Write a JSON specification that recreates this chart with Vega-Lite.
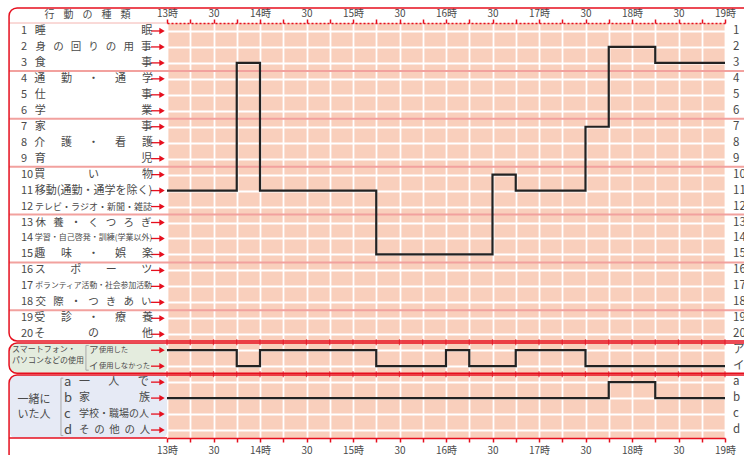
{
  "$schema": "https://vega.github.io/schema/vega-lite/v6.json",
  "width": 558,
  "height": 415,
  "autosize": {"type": "none"},
  "padding": {"left": 167, "top": 23, "right": 19, "bottom": 17},
  "background": "white",
  "config": {
    "view": {"fill": "#f9cfbc", "stroke": null},
    "font": "Noto Sans CJK JP",
    "text": {"font": "Noto Sans CJK JP"},
    "axis": {"labelFont": "Noto Sans CJK JP"}
  },
  "resolve": {"axis": {"x": "independent", "y": "independent"}},
  "datasets": {
    "rows": [
      {"row": 1, "num": "1", "label": "睡\u3000\u3000\u3000\u3000\u3000\u3000\u3000\u3000\u00a0\u00a0\u00a0眠", "rlab": "1"},
      {"row": 2, "num": "2", "label": "身\u00a0\u00a0\u00a0の\u00a0\u00a0\u00a0回\u00a0\u00a0\u00a0り\u00a0\u00a0\u00a0の\u00a0\u00a0\u00a0用\u00a0\u00a0\u00a0事", "rlab": "2"},
      {"row": 3, "num": "3", "label": "食\u3000\u3000\u3000\u3000\u3000\u3000\u3000\u3000\u00a0\u00a0\u00a0事", "rlab": "3"},
      {"row": 4, "num": "4", "label": "通\u3000\u00a0\u00a0勤\u3000\u00a0\u00a0・\u3000\u00a0\u00a0通\u3000\u00a0\u00a0学", "rlab": "4"},
      {"row": 5, "num": "5", "label": "仕\u3000\u3000\u3000\u3000\u3000\u3000\u3000\u3000\u00a0\u00a0\u00a0事", "rlab": "5"},
      {"row": 6, "num": "6", "label": "学\u3000\u3000\u3000\u3000\u3000\u3000\u3000\u3000\u00a0\u00a0\u00a0業", "rlab": "6"},
      {"row": 7, "num": "7", "label": "家\u3000\u3000\u3000\u3000\u3000\u3000\u3000\u3000\u00a0\u00a0\u00a0事", "rlab": "7"},
      {"row": 8, "num": "8", "label": "介\u3000\u00a0\u00a0護\u3000\u00a0\u00a0・\u3000\u00a0\u00a0看\u3000\u00a0\u00a0護", "rlab": "8"},
      {"row": 9, "num": "9", "label": "育\u3000\u3000\u3000\u3000\u3000\u3000\u3000\u3000\u00a0\u00a0\u00a0児", "rlab": "9"},
      {"row": 10, "num": "10", "label": "買\u3000\u3000\u3000\u00a0\u00a0\u00a0\u00a0い\u3000\u3000\u3000\u00a0\u00a0\u00a0\u00a0物", "rlab": "10"},
      {"row": 11, "num": "11", "label": "移動(通勤・通学を除く)", "rlab": "11"},
      {"row": 12, "num": "12", "label": "テレビ・ラジオ・新聞・雑誌", "rlab": "12"},
      {"row": 13, "num": "13", "label": "休\u00a0\u00a0\u00a0養\u00a0\u00a0\u00a0・\u00a0\u00a0\u00a0く\u00a0\u00a0\u00a0つ\u00a0\u00a0\u00a0ろ\u00a0\u00a0\u00a0ぎ", "rlab": "13"},
      {"row": 14, "num": "14", "label": "学習・自己啓発・訓練(学業以外)", "rlab": "14"},
      {"row": 15, "num": "15", "label": "趣\u3000\u00a0\u00a0味\u3000\u00a0\u00a0・\u3000\u00a0\u00a0娯\u3000\u00a0\u00a0楽", "rlab": "15"},
      {"row": 16, "num": "16", "label": "ス\u3000\u3000\u00a0ポ\u3000\u3000\u00a0ー\u3000\u3000\u00a0ツ", "rlab": "16"},
      {"row": 17, "num": "17", "label": "ボランティア活動・社会参加活動", "rlab": "17"},
      {"row": 18, "num": "18", "label": "交\u00a0\u00a0\u00a0際\u00a0\u00a0\u00a0・\u00a0\u00a0\u00a0つ\u00a0\u00a0\u00a0き\u00a0\u00a0\u00a0あ\u00a0\u00a0\u00a0い", "rlab": "18"},
      {"row": 19, "num": "19", "label": "受\u3000\u00a0\u00a0診\u3000\u00a0\u00a0・\u3000\u00a0\u00a0療\u3000\u00a0\u00a0養", "rlab": "19"},
      {"row": 20, "num": "20", "label": "そ\u3000\u3000\u3000\u00a0\u00a0\u00a0\u00a0の\u3000\u3000\u3000\u00a0\u00a0\u00a0\u00a0他", "rlab": "20"},
      {"row": 21, "letter": "ア", "label": "使用した", "rlab": "ア"},
      {"row": 22, "letter": "イ", "label": "使用しなかった", "rlab": "イ"},
      {"row": 23, "letter": "a", "label": "一\u3000\u00a0\u00a0\u00a0人\u3000\u00a0\u00a0\u00a0で", "rlab": "a"},
      {"row": 24, "letter": "b", "label": "家\u3000\u3000\u3000\u3000\u00a0\u00a0族", "rlab": "b"},
      {"row": 25, "letter": "c", "label": "学校・職場の人", "rlab": "c"},
      {"row": 26, "letter": "d", "label": "そ\u00a0\u00a0の\u00a0\u00a0他\u00a0\u00a0の\u00a0\u00a0人", "rlab": "d"}
    ],
    "lines": [
      {"s": "act", "t": 0, "row": 11}, {"s": "act", "t": 45, "row": 3}, {"s": "act", "t": 60, "row": 11},
      {"s": "act", "t": 135, "row": 15}, {"s": "act", "t": 210, "row": 10}, {"s": "act", "t": 225, "row": 11},
      {"s": "act", "t": 270, "row": 7}, {"s": "act", "t": 285, "row": 2}, {"s": "act", "t": 315, "row": 3},
      {"s": "act", "t": 360, "row": 3},
      {"s": "phone", "t": 0, "row": 21}, {"s": "phone", "t": 45, "row": 22}, {"s": "phone", "t": 60, "row": 21},
      {"s": "phone", "t": 135, "row": 22}, {"s": "phone", "t": 180, "row": 21}, {"s": "phone", "t": 195, "row": 22},
      {"s": "phone", "t": 225, "row": 21}, {"s": "phone", "t": 270, "row": 22}, {"s": "phone", "t": 360, "row": 22},
      {"s": "comp", "t": 0, "row": 24}, {"s": "comp", "t": 285, "row": 23}, {"s": "comp", "t": 315, "row": 24},
      {"s": "comp", "t": 360, "row": 24}
    ],
    "times": [
      {"t": 0}, {"t": 15}, {"t": 30}, {"t": 45}, {"t": 60}, {"t": 75}, {"t": 90}, {"t": 105}, {"t": 120},
      {"t": 135}, {"t": 150}, {"t": 165}, {"t": 180}, {"t": 195}, {"t": 210}, {"t": 225}, {"t": 240},
      {"t": 255}, {"t": 270}, {"t": 285}, {"t": 300}, {"t": 315}, {"t": 330}, {"t": 345}, {"t": 360}
    ],
    "seps": [{"b": 3.5}, {"b": 6.5}, {"b": 9.5}, {"b": 12.5}, {"b": 15.5}, {"b": 18.5}]
  },
  "layer": [
    {
      "data": {"values": [{}]},
      "mark": {"type": "rect", "fill": "#e4ecde", "cornerRadius": 6},
      "encoding": {
        "x": {"datum": -101.5, "type": "quantitative", "scale": {"domain": [0, 360], "nice": false, "zero": false}, "axis": null},
        "x2": {"datum": 0},
        "y": {"datum": 20.55, "type": "quantitative", "scale": {"domain": [0.5, 26.5], "reverse": true, "nice": false, "zero": false}, "axis": null},
        "y2": {"datum": 22.45}
      }
    },
    {
      "data": {"values": [{}]},
      "mark": {"type": "rect", "fill": "#e6eaf5", "cornerRadius": 6},
      "encoding": {
        "x": {"datum": -101.5, "type": "quantitative", "axis": null},
        "x2": {"datum": 0},
        "y": {"datum": 22.55, "type": "quantitative", "axis": null},
        "y2": {"datum": 26.5}
      }
    },
    {
      "data": {"name": "seps"},
      "mark": {"type": "rule", "color": "#f2a19e", "strokeWidth": 2},
      "encoding": {
        "x": {"datum": -101.9, "type": "quantitative", "axis": null},
        "x2": {"datum": 400},
        "y": {"field": "b", "type": "quantitative", "axis": null}
      }
    },
    {
      "data": {"values": [{}]},
      "mark": {"type": "rule", "color": "#f4b4b0", "strokeWidth": 1},
      "encoding": {
        "x": {"datum": -101.9, "type": "quantitative", "axis": null},
        "x2": {"datum": 0},
        "y": {"datum": 0.5, "type": "quantitative", "axis": null}
      }
    },
    {
      "data": {"values": [{}]},
      "mark": {"type": "rule", "color": "#e60f1e", "strokeWidth": 1.5},
      "encoding": {
        "x": {"datum": -101.9, "type": "quantitative", "axis": null},
        "x2": {"datum": 0},
        "y": {"datum": 26.5, "type": "quantitative", "axis": null}
      }
    },
    {
      "data": {"values": [{}]},
      "mark": {"type": "rect", "fill": "transparent", "stroke": "#e60f1e", "strokeWidth": 1.5, "cornerRadius": 8},
      "encoding": {
        "x": {"datum": -101.9, "type": "quantitative", "axis": null},
        "x2": {"datum": 400},
        "y": {"datum": -0.44, "type": "quantitative", "axis": null},
        "y2": {"datum": 20.42}
      }
    },
    {
      "data": {"values": [{}]},
      "mark": {"type": "rect", "fill": "transparent", "stroke": "#e60f1e", "strokeWidth": 1.5, "cornerRadius": 8},
      "encoding": {
        "x": {"datum": -101.9, "type": "quantitative", "axis": null},
        "x2": {"datum": 400},
        "y": {"datum": 20.55, "type": "quantitative", "axis": null},
        "y2": {"datum": 22.45}
      }
    },
    {
      "data": {"values": [{}]},
      "mark": {"type": "rect", "fill": "transparent", "stroke": "#e60f1e", "strokeWidth": 1.5, "cornerRadius": 8},
      "encoding": {
        "x": {"datum": -101.9, "type": "quantitative", "axis": null},
        "x2": {"datum": 400},
        "y": {"datum": 22.55, "type": "quantitative", "axis": null},
        "y2": {"datum": 28}
      }
    },
    {
      "data": {"name": "times"},
      "mark": {"type": "tick", "orient": "vertical", "color": "#e60f1e", "thickness": 1.3, "size": 6},
      "encoding": {
        "x": {"field": "t", "type": "quantitative", "axis": null},
        "y": {"datum": 20.5, "type": "quantitative", "axis": null}
      }
    },
    {
      "data": {"name": "times"},
      "mark": {"type": "tick", "orient": "vertical", "color": "#e60f1e", "thickness": 1.3, "size": 6},
      "encoding": {
        "x": {
          "field": "t", "type": "quantitative",
          "axis": {
            "orient": "bottom", "values": [0, 15, 30, 45, 60, 75, 90, 105, 120, 135, 150, 165, 180, 195, 210, 225, 240, 255, 270, 285, 300, 315, 330, 345, 360],
            "labelExpr": "datum.value % 60 == 0 ? (13 + datum.value / 60) + '時' : (datum.value % 30 == 0 ? '30' : '')",
            "grid": false, "domainColor": "#e60f1e", "domainWidth": 1.5, "tickColor": "#e60f1e", "tickSize": 4, "tickWidth": 1.5,
            "labelColor": "#4a4a4a", "labelFontSize": 10, "labelPadding": 3, "labelFlush": false, "labelOverlap": false, "title": null
          }
        },
        "y": {"datum": 22.5, "type": "quantitative", "axis": null}
      }
    },
    {
      "data": {"name": "rows"},
      "mark": {"type": "rule", "color": "#e60f1e", "strokeWidth": 1.3},
      "encoding": {
        "x": {"datum": -10.3, "type": "quantitative", "axis": null},
        "x2": {"datum": -3},
        "y": {"field": "row", "type": "quantitative", "axis": null}
      }
    },
    {
      "data": {"name": "rows"},
      "mark": {"type": "point", "shape": "triangle-right", "filled": true, "color": "#e60f1e", "size": 40, "opacity": 1},
      "encoding": {
        "x": {"datum": -3.2, "type": "quantitative", "axis": null},
        "y": {"field": "row", "type": "quantitative", "axis": null}
      }
    },
    {
      "data": {"values": [{}]},
      "mark": {"type": "text", "text": "行\u00a0\u00a0\u00a0\u00a0動\u00a0\u00a0\u00a0\u00a0の\u00a0\u00a0\u00a0\u00a0種\u00a0\u00a0\u00a0\u00a0類", "fontSize": 10, "color": "#4a4a4a", "align": "center", "baseline": "middle"},
      "encoding": {
        "x": {"datum": -51.3, "type": "quantitative", "axis": null},
        "y": {"datum": 0.0, "type": "quantitative", "axis": null}
      }
    },
    {
      "data": {"name": "rows"},
      "transform": [{"filter": "datum.row <= 20"}],
      "mark": {"type": "text", "align": "left", "baseline": "middle", "fontSize": 11, "color": "#4a4a4a"},
      "encoding": {
        "x": {"datum": -94.2, "type": "quantitative", "axis": null},
        "y": {"field": "row", "type": "quantitative", "axis": null},
        "text": {"field": "num"}
      }
    },
    {
      "data": {"name": "rows"},
      "transform": [{"filter": "datum.row <= 20"}],
      "mark": {"type": "text", "align": "center", "baseline": "middle", "color": "#4a4a4a"},
      "encoding": {
        "x": {"datum": -47.4, "type": "quantitative", "axis": null},
        "y": {"field": "row", "type": "quantitative", "axis": null},
        "text": {"field": "label"},
        "size": {
          "condition": [
            {"test": "datum.row == 12", "value": 9},
            {"test": "datum.row == 14", "value": 8},
            {"test": "datum.row == 17", "value": 7.8},
            {"test": "datum.row == 2 || datum.row == 13 || datum.row == 18", "value": 10.5}
          ],
          "value": 11
        }
      }
    },
    {
      "data": {"name": "rows"},
      "transform": [{"filter": "datum.row >= 21 && datum.row <= 22"}],
      "mark": {"type": "text", "align": "left", "baseline": "middle", "fontSize": 9.5, "color": "#4a4a4a"},
      "encoding": {
        "x": {"datum": -50.3, "type": "quantitative", "axis": null},
        "y": {"field": "row", "type": "quantitative", "axis": null},
        "text": {"field": "letter"}
      }
    },
    {
      "data": {"name": "rows"},
      "transform": [{"filter": "datum.row >= 21 && datum.row <= 22"}],
      "mark": {"type": "text", "align": "left", "baseline": "middle", "fontSize": 7.3, "color": "#4a4a4a"},
      "encoding": {
        "x": {"datum": -43.9, "type": "quantitative", "axis": null},
        "y": {"field": "row", "type": "quantitative", "axis": null},
        "text": {"field": "label"}
      }
    },
    {
      "data": {"name": "rows"},
      "transform": [{"filter": "datum.row >= 23"}],
      "mark": {"type": "text", "align": "left", "baseline": "middle", "fontSize": 13, "color": "#4a4a4a"},
      "encoding": {
        "x": {"datum": -66.5, "type": "quantitative", "axis": null},
        "y": {"field": "row", "type": "quantitative", "axis": null},
        "text": {"field": "letter"}
      }
    },
    {
      "data": {"name": "rows"},
      "transform": [{"filter": "datum.row >= 23"}],
      "mark": {"type": "text", "align": "left", "baseline": "middle", "color": "#4a4a4a"},
      "encoding": {
        "x": {"datum": -56.8, "type": "quantitative", "axis": null},
        "y": {"field": "row", "type": "quantitative", "axis": null},
        "text": {"field": "label"},
        "size": {
          "condition": [
            {"test": "datum.row == 25", "value": 10},
            {"test": "datum.row == 26", "value": 10.5}
          ],
          "value": 11
        }
      }
    },
    {
      "data": {"values": [{}]},
      "mark": {"type": "text", "text": "スマートフォン・", "fontSize": 8, "color": "#4a4a4a", "align": "left", "baseline": "middle"},
      "encoding": {
        "x": {"datum": -100, "type": "quantitative", "axis": null},
        "y": {"datum": 21.0, "type": "quantitative", "axis": null}
      }
    },
    {
      "data": {"values": [{}]},
      "mark": {"type": "text", "text": "パソコンなどの使用", "fontSize": 8, "color": "#4a4a4a", "align": "left", "baseline": "middle"},
      "encoding": {
        "x": {"datum": -100, "type": "quantitative", "axis": null},
        "y": {"datum": 21.68, "type": "quantitative", "axis": null}
      }
    },
    {
      "data": {"values": [{}]},
      "mark": {"type": "text", "text": "一緒に", "fontSize": 11, "color": "#4a4a4a", "align": "center", "baseline": "middle"},
      "encoding": {
        "x": {"datum": -85.8, "type": "quantitative", "axis": null},
        "y": {"datum": 24.1, "type": "quantitative", "axis": null}
      }
    },
    {
      "data": {"values": [{}]},
      "mark": {"type": "text", "text": "いた人", "fontSize": 11, "color": "#4a4a4a", "align": "center", "baseline": "middle"},
      "encoding": {
        "x": {"datum": -85.8, "type": "quantitative", "axis": null},
        "y": {"datum": 25.05, "type": "quantitative", "axis": null}
      }
    },
    {
      "data": {"values": [{}]},
      "mark": {"type": "rule", "color": "#a8a8a8", "strokeWidth": 1},
      "encoding": {
        "x": {"datum": -52.3, "type": "quantitative", "axis": null},
        "y": {"datum": 20.7, "type": "quantitative", "axis": null},
        "y2": {"datum": 22.25}
      }
    },
    {
      "data": {"values": [{}]},
      "mark": {"type": "rule", "color": "#a8a8a8", "strokeWidth": 1},
      "encoding": {
        "x": {"datum": -52.3, "type": "quantitative", "axis": null},
        "x2": {"datum": -50.5},
        "y": {"datum": 20.7, "type": "quantitative", "axis": null}
      }
    },
    {
      "data": {"values": [{}]},
      "mark": {"type": "rule", "color": "#a8a8a8", "strokeWidth": 1},
      "encoding": {
        "x": {"datum": -52.3, "type": "quantitative", "axis": null},
        "x2": {"datum": -50.5},
        "y": {"datum": 22.25, "type": "quantitative", "axis": null}
      }
    },
    {
      "data": {"values": [{}]},
      "mark": {"type": "rule", "color": "#a8a8a8", "strokeWidth": 1},
      "encoding": {
        "x": {"datum": -68.4, "type": "quantitative", "axis": null},
        "y": {"datum": 22.75, "type": "quantitative", "axis": null},
        "y2": {"datum": 26.35}
      }
    },
    {
      "data": {"values": [{}]},
      "mark": {"type": "rule", "color": "#a8a8a8", "strokeWidth": 1},
      "encoding": {
        "x": {"datum": -68.4, "type": "quantitative", "axis": null},
        "x2": {"datum": -66.9},
        "y": {"datum": 22.75, "type": "quantitative", "axis": null}
      }
    },
    {
      "data": {"values": [{}]},
      "mark": {"type": "rule", "color": "#a8a8a8", "strokeWidth": 1},
      "encoding": {
        "x": {"datum": -68.4, "type": "quantitative", "axis": null},
        "x2": {"datum": -66.9},
        "y": {"datum": 26.35, "type": "quantitative", "axis": null}
      }
    },
    {
      "data": {"name": "rows"},
      "mark": {"type": "text", "align": "left", "baseline": "middle", "fontSize": 11.5, "color": "#4a4a4a"},
      "encoding": {
        "x": {"datum": 365.2, "type": "quantitative", "axis": null},
        "y": {"field": "row", "type": "quantitative", "axis": null},
        "text": {"field": "rlab"}
      }
    },
    {
      "data": {"name": "lines"},
      "mark": {"type": "line", "interpolate": "step-after", "color": "#222222", "strokeWidth": 2.2},
      "encoding": {
        "x": {
          "field": "t", "type": "quantitative",
          "axis": {
            "orient": "top", "values": [0, 15, 30, 45, 60, 75, 90, 105, 120, 135, 150, 165, 180, 195, 210, 225, 240, 255, 270, 285, 300, 315, 330, 345, 360],
            "labelExpr": "datum.value % 60 == 0 ? (13 + datum.value / 60) + '時' : (datum.value % 30 == 0 ? '30' : '')",
            "grid": true, "gridColor": "white", "gridWidth": 1.8,
            "domainColor": "#e60f1e", "domainDash": [2, 2], "domainWidth": 1.5,
            "tickColor": "#e60f1e", "tickSize": 4, "tickWidth": 1.5,
            "labelColor": "#4a4a4a", "labelFontSize": 10, "labelPadding": 1, "labelFlush": false, "labelOverlap": false, "title": null
          }
        },
        "y": {
          "field": "row", "type": "quantitative",
          "axis": {
            "values": [1, 2, 3, 4, 5, 6, 7, 8, 9, 10, 11, 12, 13, 14, 15, 16, 17, 18, 19, 20, 21, 22, 23, 24, 25, 26],
            "grid": true, "gridColor": "white", "gridWidth": 1.8,
            "labels": false, "ticks": false, "domain": false, "title": null
          }
        },
        "detail": {"field": "s"}
      }
    }
  ]
}
